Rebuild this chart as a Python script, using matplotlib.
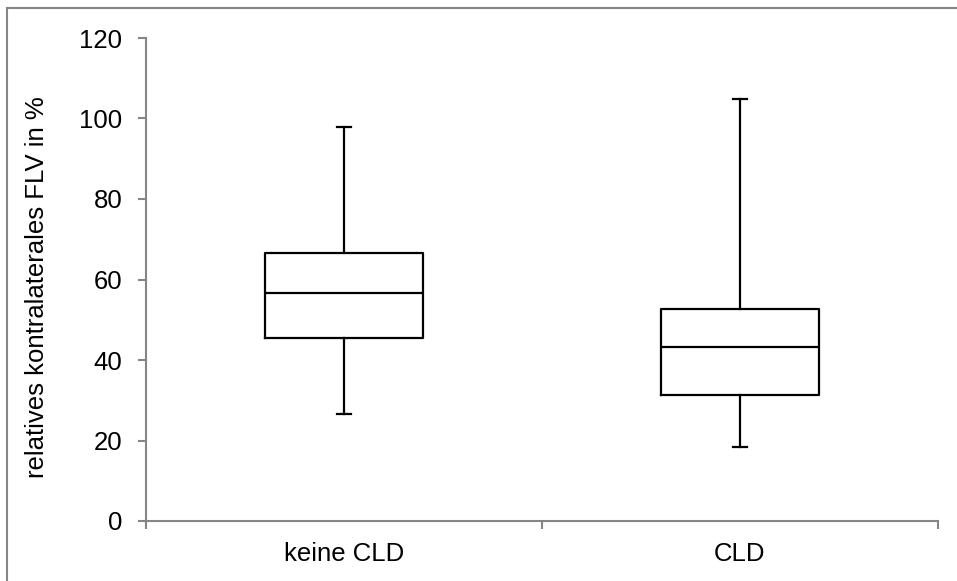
import matplotlib
matplotlib.use("Agg")
import matplotlib.pyplot as plt
from matplotlib.patches import Rectangle

categories = ["keine CLD", "CLD"]
whisker_low = [26.6, 18.3]
q1 = [45.5, 31.3]
median = [56.7, 43.2]
q3 = [66.7, 52.6]
whisker_high = [97.9, 104.8]
y_ticks = [0, 20, 40, 60, 80, 100, 120]
y_label = "relatives kontralaterales FLV in %"

plt.rcParams['font.family'] = ['Liberation Sans', 'DejaVu Sans']

W, H = 957, 581
fig = plt.figure(figsize=(W / 100, H / 100), dpi=100)
ax = fig.add_axes([146 / W, 1 - 521 / H, (938 - 146) / W, (521 - 38) / H])

stats = []
for i, c in enumerate(categories):
    stats.append(dict(label=c, whislo=whisker_low[i], q1=q1[i], med=median[i],
                      q3=q3[i], whishi=whisker_high[i], fliers=[]))

positions = [0.5 + i for i in range(len(categories))]
ax.bxp(stats, positions=positions, widths=0.4, showfliers=False,
       boxprops=dict(color='black', linewidth=1.6),
       medianprops=dict(color='black', linewidth=1.6),
       whiskerprops=dict(color='black', linewidth=1.6),
       capprops=dict(color='black', linewidth=1.6),
       capwidths=0.033)

ax.set_xlim(0, len(categories))
ax.set_ylim(0, 120)
ax.set_yticks(y_ticks)
ax.set_yticklabels([str(v) for v in y_ticks])
ax.set_xticks(positions)
ax.set_xticklabels(categories)
ax.set_xticks(list(range(len(categories) + 1)), minor=True)

gray = '#868686'
for s in ['top', 'right']:
    ax.spines[s].set_visible(False)
for s in ['left', 'bottom']:
    ax.spines[s].set_color(gray)
    ax.spines[s].set_linewidth(1.5)

fs = 18.5
ax.tick_params(axis='y', which='major', direction='out', length=6, width=1.5,
               color=gray, labelsize=fs, pad=11, labelcolor='black')
ax.tick_params(axis='x', which='major', length=0, labelsize=fs, pad=15,
               labelcolor='black')
ax.tick_params(axis='x', which='minor', direction='out', length=6, width=1.5,
               color=gray)

ax.set_ylabel(y_label, fontsize=fs)
ax.yaxis.set_label_coords(-0.123, 0.485)

fig.add_artist(Rectangle((7 / W, -0.1), 1.2, 1 - 8 / H + 0.1,
                         transform=fig.transFigure, fill=False,
                         edgecolor=gray, linewidth=1.5))

fig.savefig("out.png", dpi=100)
